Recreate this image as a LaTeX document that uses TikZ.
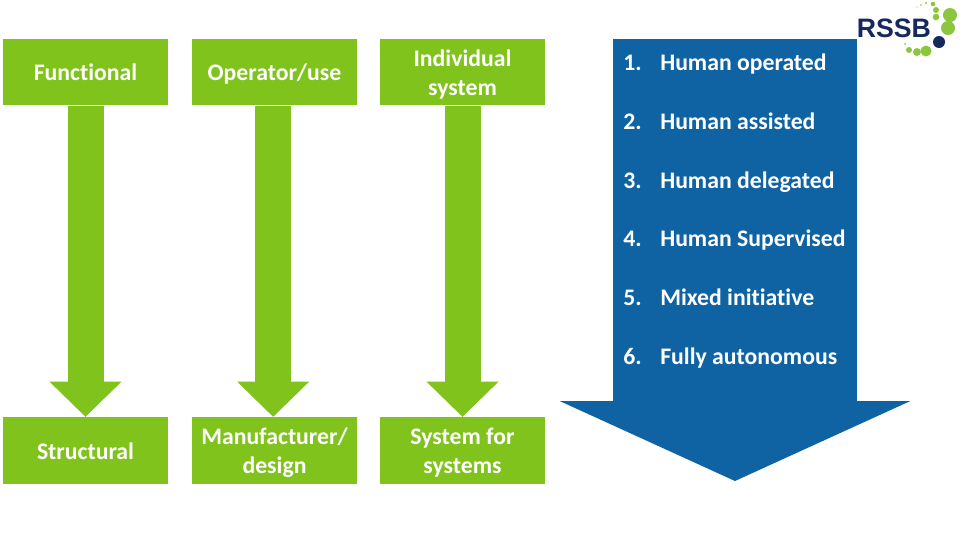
\documentclass[tikz,border=0pt]{standalone}
\usepackage{fontspec}
\setmainfont[Ligatures=NoCommon]{Carlito}
\newfontfamily\logofont{Liberation Sans}
\usetikzlibrary{arrows.meta}
\definecolor{rgreen}{HTML}{7FC31C}
\definecolor{rblue}{HTML}{0F63A3}
\definecolor{rnavy}{HTML}{16295C}
\definecolor{rlime}{HTML}{8CC63F}
\tikzset{
  gbox/.style={fill=rgreen,text=white,minimum width=123.75pt,minimum height=50pt,inner sep=0pt,align=center,
    font=\fontsize{17.8}{21.75}\selectfont\bfseries},
  garrow/.style={draw=rgreen,line width=27pt,-{Triangle[length=26.5pt,width=52.5pt]}},
  barrow/.style={draw=rblue,line width=183pt,-{Triangle[length=60pt,width=261pt]}},
  item/.style={text=white,anchor=base west,inner sep=0pt,font=\fontsize{17.8}{20}\selectfont\bfseries},
  lime/.style={fill=rlime,draw=none},
  navy/.style={fill=rnavy,draw=none}
}
\newcommand{\numitem}[2]{\makebox[27.75pt][l]{#1}#2}
\newcommand{\oneline}[1]{\rule[-4.25pt]{0pt}{21.75pt}#1}
\newcommand{\twolines}[2]{\rule{0pt}{17pt}#1\\\rule[-4.25pt]{0pt}{4.25pt}#2}
\begin{document}
\begin{tikzpicture}[x=0.75pt,y=-0.75pt]
\useasboundingbox (0,0) rectangle (960,540);
\fill[white] (0,0) rectangle (960,540);
% top boxes
\node[gbox] (f) at (85.5,72) {\oneline{Functional}};
\node[gbox] (o) at (274.5,72) {\oneline{Operator/use}};
\node[gbox] (i) at (462.5,72) {\twolines{Individual}{system}};
% bottom boxes
\node[gbox] (s) at (85.5,450.5) {\oneline{Structural}};
\node[gbox] (m) at (274.5,450.5) {\twolines{Manufacturer/}{design}};
\node[gbox] (y) at (462.5,450.5) {\twolines{System for}{systems}};
% arrows
\draw[garrow] (f.south) -- (s.north);
\draw[garrow] ([xshift=-1pt]o.south) -- ([xshift=-1pt]m.north);
\draw[garrow] (i.south) -- (y.north);
% blue arrow
\coordinate (bt) at (735,39);
\coordinate (bb) at (735,481);
\draw[barrow] (bt) -- (bb);
\node[item] (n1) at (623,70) {\numitem{1.}{Human operated}};
\node[item] (n2) at (623,129) {\numitem{2.}{Human assisted}};
\node[item] (n3) at (623,188) {\numitem{3.}{Human delegated}};
\node[item] (n4) at (623,246) {\numitem{4.}{Human Supervised}};
\node[item] (n5) at (623,305) {\numitem{5.}{Mixed initiative}};
\node[item] (n6) at (623,364) {\numitem{6.}{Fully autonomous}};
% logo
\node[text=rnavy,anchor=base west,inner sep=0pt,font=\logofont\fontsize{20}{20}\selectfont\bfseries] (logo) at (856.5,37.5) {RSSB};
\fill[navy] (939,42) circle (6);
\fill[lime] (948,28) circle (7);
\fill[lime] (950,15) circle (7);
\fill[lime] (926,51) circle (5.5);
\fill[lime] (917,52) circle (4);
\fill[lime] (909,50) circle (3);
\fill[lime] (905,44) circle (1);
\fill[lime] (936,17) circle (3.3);
\fill[lime] (936,10) circle (3);
\fill[lime] (933,4) circle (2.3);
\fill[lime] (926,3) circle (1.2);
\fill[lime] (921,5) circle (0.9);
\fill[lime] (917,7) circle (0.6);
\end{tikzpicture}
\end{document}
